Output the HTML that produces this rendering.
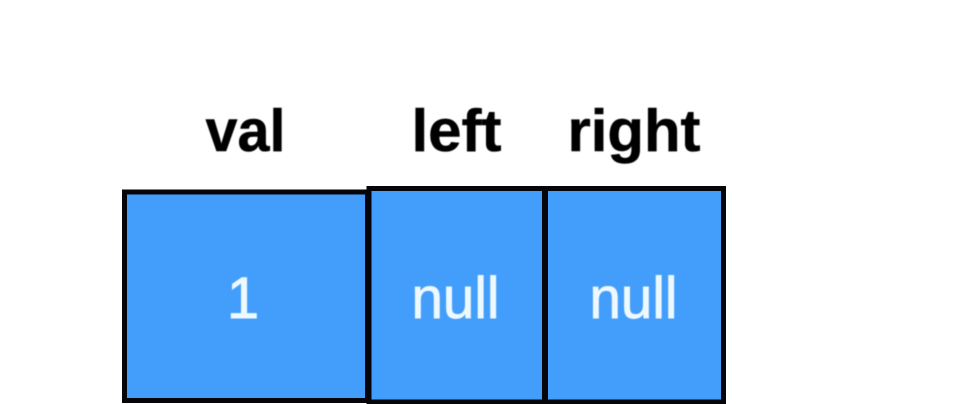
<!DOCTYPE html>
<html>
<head>
<meta charset="utf-8">
<style>
html,body{margin:0;padding:0;background:#fff;width:960px;height:404px;overflow:hidden}
svg{display:block}
text{font-family:"Liberation Sans",sans-serif;text-anchor:middle;filter:url(#soft)}
.h{font-size:59px;font-weight:700;fill:#050505;stroke:#050505;stroke-width:0.5px}
.v{font-size:58px;fill:#eef9ff;stroke:#eef9ff;stroke-width:0.9px}
rect{fill:#439dfa;stroke:#04060a;stroke-width:5}
</style>
</head>
<body>
<svg width="960" height="404" viewBox="0 0 960 404">
<defs><filter id="soft" x="-10%" y="-10%" width="120%" height="120%"><feGaussianBlur stdDeviation="0.6"/></filter></defs>
<text class="h" x="245.500" y="151" textLength="80" lengthAdjust="spacingAndGlyphs">val</text>
<text class="h" x="456.500" y="151" textLength="90" lengthAdjust="spacingAndGlyphs">left</text>
<text class="h" x="634" y="151" textLength="133" lengthAdjust="spacingAndGlyphs">right</text>
<rect x="124.500" y="192" width="243" height="208.500"/>
<rect x="369" y="188.500" width="175.500" height="213.500"/>
<rect x="545.500" y="188.500" width="178" height="213.500"/>
<text class="v" x="243" y="318">1</text>
<text class="v" x="455.500" y="318" textLength="88" lengthAdjust="spacingAndGlyphs">null</text>
<text class="v" x="633.500" y="318" textLength="88" lengthAdjust="spacingAndGlyphs">null</text>
</svg>
</body>
</html>
